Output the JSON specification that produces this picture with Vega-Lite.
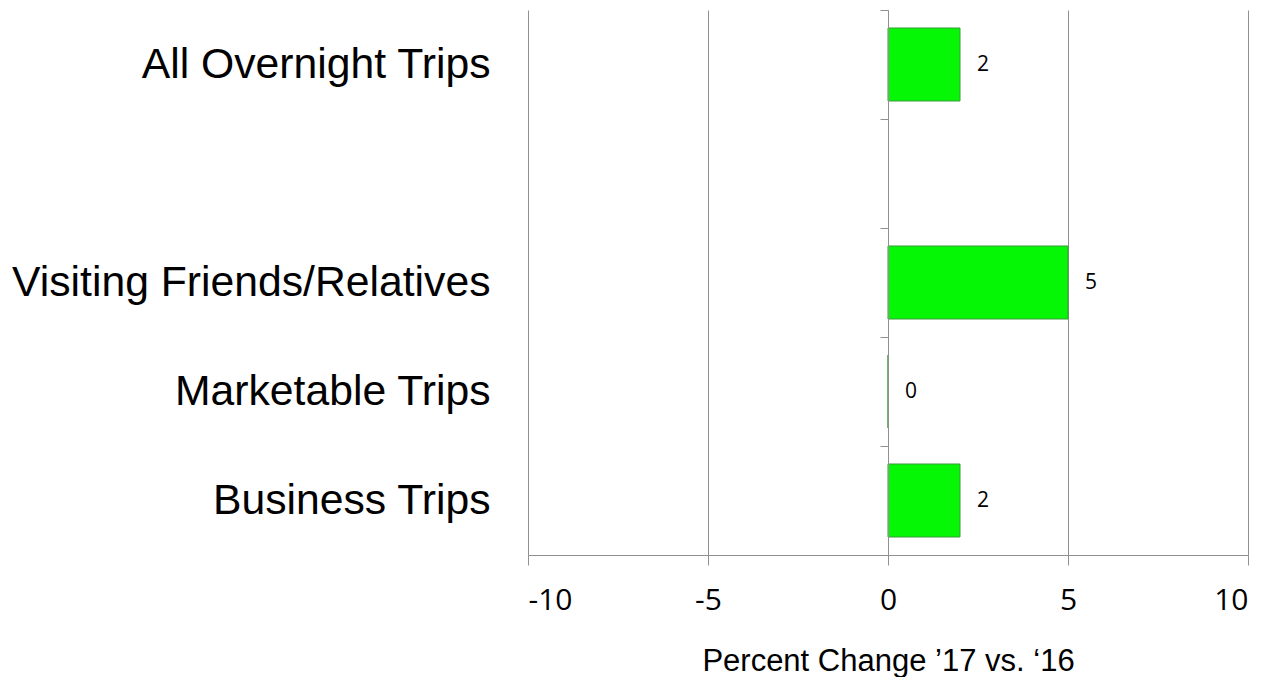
{
  "$schema": "https://vega.github.io/schema/vega-lite/v6.json",
  "width": 720,
  "height": 545,
  "autosize": {"type": "none"},
  "padding": {"left": 528, "top": 10, "right": 24, "bottom": 122},
  "background": "white",
  "config": {"view": {"stroke": null}},
  "data": {
    "values": [
      {"category": "All Overnight Trips", "value": 2},
      {"category": " ", "value": null},
      {"category": "Visiting Friends/Relatives", "value": 5},
      {"category": "Marketable Trips", "value": 0},
      {"category": "Business Trips", "value": 2}
    ]
  },
  "layer": [
    {
      "mark": {"type": "bar", "height": {"band": 0.67}, "fill": "#05f705", "stroke": "#3d9b3d", "strokeWidth": 1},
      "encoding": {
        "y": {
          "field": "category", "type": "nominal", "sort": null,
          "scale": {"domain": ["All Overnight Trips", " ", "Visiting Friends/Relatives", "Marketable Trips", "Business Trips"], "paddingInner": 0, "paddingOuter": 0},
          "axis": {"orient": "left", "title": null, "domain": false, "ticks": false, "tickSize": 0, "labelPadding": 38, "labelFont": "Liberation Sans", "labelFontSize": 42.7, "labelColor": "black", "labelLimit": 0, "grid": false}
        },
        "x": {
          "field": "value", "type": "quantitative",
          "scale": {"domain": [-10, 10], "nice": false},
          "axis": {"values": [-10, -5, 0, 5, 10], "labelExpr": "'' + datum.value", "grid": true, "gridColor": "#909090", "gridOpacity": 1, "domainColor": "#909090", "tickColor": "#909090", "tickSize": 10, "labelFont": "Open Sans", "labelFontSize": 30, "labelColor": "black", "labelPadding": 20, "title": "Percent Change ’17 vs. ‘16", "titleFont": "Liberation Sans", "titleFontSize": 31, "titleFontWeight": "normal", "titlePadding": 31, "titleColor": "black"}
        }
      }
    },
    {
      "transform": [{"filter": "isValid(datum.value)"}],
      "mark": {"type": "text", "align": "left", "dx": 17, "font": "Open Sans", "fontSize": 21, "color": "black"},
      "encoding": {
        "y": {
          "field": "category", "type": "nominal", "sort": null,
          "axis": {"orient": "left", "offset": -360, "labels": false, "title": null, "domainColor": "#909090", "tickColor": "#909090", "tickSize": 8, "bandPosition": 0, "grid": false, "zindex": 1}
        },
        "x": {"field": "value", "type": "quantitative"},
        "text": {"field": "value", "type": "quantitative"}
      }
    }
  ],
  "resolve": {"axis": {"y": "independent"}}
}
